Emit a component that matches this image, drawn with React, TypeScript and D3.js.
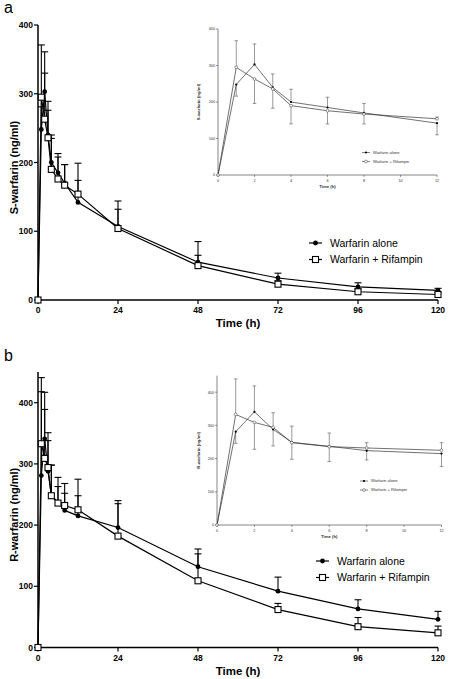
import React from "react";
import * as d3 from "d3";

const times = [0, 1, 2, 3, 4, 6, 8, 12, 24, 48, 72, 96, 120];
const mainXTicks = [0, 24, 48, 72, 96, 120];
const insetXTicks = [0, 2, 4, 6, 8, 10, 12];
const yTicks = [0, 100, 200, 300, 400];
const seriesNames = ["Warfarin alone", "Warfarin + Rifampin"];

// Panel a: S-warfarin
const sAlone = [0, 248, 303, 240, 200, 185, 170, 142, 107, 55, 32, 19, 14];
const sRif = [0, 295, 263, 236, 190, 176, 167, 154, 104, 50, 23, 12, 8];
const sAloneSd = [0, 33, 58, 36, 35, 28, 27, 32, 37, 30, 7, 6, 3];
const sRifSd = [0, 76, 67, 53, 50, 32, 30, 45, 28, 15, 5, 4, 3];
const sAloneInsetErr = [0, 32, 56, 37, 35, 28, 26, 32];
const sRifInsetErr = [0, 73, 67, 53, 50, 36, 27, 5];

// Panel b: R-warfarin
const rAlone = [0, 281, 341, 288, 249, 237, 224, 215, 196, 132, 92, 63, 46];
const rRif = [0, 333, 309, 294, 248, 236, 232, 225, 182, 109, 62, 34, 24];
const rAloneSd = [0, 137, 76, 63, 49, 41, 28, 33, 44, 29, 23, 15, 13];
const rRifSd = [0, 108, 80, 44, 50, 27, 36, 50, 53, 44, 10, 15, 11];
const rAloneInsetErr = [0, 35, 78, 50, 49, 40, 28, 39];
const rRifInsetErr = [0, 107, 81, 44, 50, 45, 16, 23];

const FONT = "'Liberation Sans', Arial, sans-serif";

type PanelProps = {
  letter: string;
  letterY: number;
  yLabel: string;
  alone: number[];
  rif: number[];
  aloneSd: number[];
  rifSd: number[];
  aloneIn: number[];
  rifIn: number[];
  yMax: number;
  main: { x0: number; x1: number; y0: number; y1: number; labelY: number; titleY: number; legX: number; legY: number };
  inset: { x0: number; x1: number; y0: number; y1: number; yMax: number; legX: number; legY: number; yLabelX: number };
};

function Panel(p: PanelProps) {
  const x = d3.scaleLinear().domain([0, 120]).range([p.main.x0, p.main.x1]);
  const y = d3.scaleLinear().domain([0, p.yMax]).range([p.main.y0, p.main.y1]);
  const line = d3
    .line<number>()
    .x((_, i) => x(times[i]))
    .y((d) => y(d));

  const ix = d3.scaleLinear().domain([0, 12]).range([p.inset.x0, p.inset.x1]);
  const iy = d3.scaleLinear().domain([0, p.inset.yMax]).range([p.inset.y0, p.inset.y1]);
  const nIn = 8;
  const iline = d3
    .line<number>()
    .x((_, i) => ix(times[i]))
    .y((d) => iy(d));

  const sq = 6;
  const cr = 2.4;
  const m = p.main;

  return (
    <g>
      <text x={4} y={p.letterY} fontSize={16} fontFamily={FONT}>
        {p.letter}
      </text>
      {/* main axes */}
      <line x1={m.x0} x2={m.x0} y1={m.y0} y2={y(p.yMax)} stroke="#000" strokeWidth={1.5} />
      <line x1={m.x0} x2={m.x1} y1={m.y0} y2={m.y0} stroke="#000" strokeWidth={1.5} />
      {yTicks.map((t) => (
        <g key={"yt" + t}>
          <line x1={m.x0 - 4} x2={m.x0} y1={y(t)} y2={y(t)} stroke="#000" strokeWidth={1.2} />
          <text x={m.x0 - 5} y={y(t) + 3} fontSize={8.5} fontWeight="bold" textAnchor="end" fontFamily={FONT}>
            {t}
          </text>
        </g>
      ))}
      {mainXTicks.map((t) => (
        <g key={"xt" + t}>
          <line x1={x(t)} x2={x(t)} y1={m.y0} y2={m.y0 + 4} stroke="#000" strokeWidth={1.2} />
          <text x={x(t)} y={m.labelY} fontSize={8.5} fontWeight="bold" textAnchor="middle" fontFamily={FONT}>
            {t}
          </text>
        </g>
      ))}
      <text x={x(60)} y={m.titleY} fontSize={11.5} fontWeight="bold" textAnchor="middle" fontFamily={FONT}>
        Time (h)
      </text>
      <text
        transform={`translate(${18},${(m.y0 + y(p.yMax)) / 2 + 5}) rotate(-90)`}
        fontSize={11}
        fontWeight="bold"
        textAnchor="middle"
        fontFamily={FONT}
      >
        {p.yLabel}
      </text>
      {/* error bars main (upper only) */}
      {[
        { v: p.alone, sd: p.aloneSd },
        { v: p.rif, sd: p.rifSd },
      ].map((s, si) =>
        s.v.map((v, i) =>
          s.sd[i] > 0 ? (
            <g key={`eb${si}-${i}`} stroke="#000" strokeWidth={1.1}>
              <line x1={x(times[i])} x2={x(times[i])} y1={y(v)} y2={y(v + s.sd[i])} />
              <line x1={x(times[i]) - 3.5} x2={x(times[i]) + 3.5} y1={y(v + s.sd[i])} y2={y(v + s.sd[i])} />
            </g>
          ) : null
        )
      )}
      <path d={line(p.alone) || ""} fill="none" stroke="#000" strokeWidth={1.2} />
      <path d={line(p.rif) || ""} fill="none" stroke="#000" strokeWidth={1.2} />
      {p.alone.map((v, i) => (
        <circle key={"ca" + i} cx={x(times[i])} cy={y(v)} r={cr} fill="#000" />
      ))}
      {p.rif.map((v, i) => (
        <rect
          key={"sr" + i}
          x={x(times[i]) - sq / 2}
          y={y(v) - sq / 2}
          width={sq}
          height={sq}
          fill="#fff"
          stroke="#000"
          strokeWidth={1.1}
        />
      ))}
      {/* main legend */}
      <g fontFamily={FONT} fontSize={10.5}>
        <line x1={m.legX} x2={m.legX + 13} y1={m.legY} y2={m.legY} stroke="#000" strokeWidth={1.2} />
        <circle cx={m.legX + 6.5} cy={m.legY} r={cr} fill="#000" />
        <text x={m.legX + 21} y={m.legY + 3.8}>
          {seriesNames[0]}
        </text>
        <line x1={m.legX} x2={m.legX + 13} y1={m.legY + 16.5} y2={m.legY + 16.5} stroke="#000" strokeWidth={1.2} />
        <rect
          x={m.legX + 6.5 - sq / 2}
          y={m.legY + 16.5 - sq / 2}
          width={sq}
          height={sq}
          fill="#fff"
          stroke="#000"
          strokeWidth={1.1}
        />
        <text x={m.legX + 21} y={m.legY + 16.5 + 3.8}>
          {seriesNames[1]}
        </text>
      </g>

      {/* inset */}
      <g fontFamily={FONT}>
        <line x1={p.inset.x0} x2={p.inset.x0} y1={p.inset.y0} y2={iy(p.inset.yMax)} stroke="#333" strokeWidth={0.6} />
        <line x1={p.inset.x0} x2={p.inset.x1} y1={p.inset.y0} y2={p.inset.y0} stroke="#333" strokeWidth={0.6} />
        {yTicks.map((t) => (
          <g key={"iyt" + t}>
            <line x1={p.inset.x0 - 2} x2={p.inset.x0} y1={iy(t)} y2={iy(t)} stroke="#333" strokeWidth={0.5} />
            <text x={p.inset.x0 - 3} y={iy(t) + 1.3} fontSize={3.8} textAnchor="end" fill="#333">
              {t}
            </text>
          </g>
        ))}
        {insetXTicks.map((t) => (
          <g key={"ixt" + t}>
            <line x1={ix(t)} x2={ix(t)} y1={p.inset.y0} y2={p.inset.y0 + 2} stroke="#333" strokeWidth={0.5} />
            <text x={ix(t)} y={p.inset.y0 + 6.5} fontSize={3.8} textAnchor="middle" fill="#333">
              {t}
            </text>
          </g>
        ))}
        <text x={ix(6)} y={p.inset.y0 + 13} fontSize={4.3} fontWeight="bold" textAnchor="middle" fill="#333">
          Time (h)
        </text>
        <text
          transform={`translate(${p.inset.yLabelX},${(p.inset.y0 + iy(p.inset.yMax)) / 2}) rotate(-90)`}
          fontSize={4.3}
          fontWeight="bold"
          textAnchor="middle"
          fill="#333"
        >
          {p.yLabel}
        </text>
        {d3.range(1, nIn).map((i) => {
          const a = p.alone[i];
          const r = p.rif[i];
          const aUp = a >= r;
          const aEnd = aUp ? a + p.aloneIn[i] : a - p.aloneIn[i];
          const rEnd = aUp ? r - p.rifIn[i] : r + p.rifIn[i];
          const xx = ix(times[i]);
          return (
            <g key={"ieb" + i} stroke="#555" strokeWidth={0.6}>
              <line x1={xx} x2={xx} y1={iy(a)} y2={iy(aEnd)} />
              <line x1={xx - 1.8} x2={xx + 1.8} y1={iy(aEnd)} y2={iy(aEnd)} />
              <line x1={xx} x2={xx} y1={iy(r)} y2={iy(rEnd)} />
              <line x1={xx - 1.8} x2={xx + 1.8} y1={iy(rEnd)} y2={iy(rEnd)} />
            </g>
          );
        })}
        <path d={iline(p.alone.slice(0, nIn)) || ""} fill="none" stroke="#333" strokeWidth={0.7} />
        <path d={iline(p.rif.slice(0, nIn)) || ""} fill="none" stroke="#333" strokeWidth={0.7} />
        {p.alone.slice(0, nIn).map((v, i) => (
          <circle key={"ica" + i} cx={ix(times[i])} cy={iy(v)} r={1.1} fill="#000" />
        ))}
        {p.rif.slice(0, nIn).map((v, i) => (
          <circle key={"icr" + i} cx={ix(times[i])} cy={iy(v)} r={1.4} fill="#fff" stroke="#333" strokeWidth={0.5} />
        ))}
        <line x1={p.inset.legX} x2={p.inset.legX + 8} y1={p.inset.legY} y2={p.inset.legY} stroke="#333" strokeWidth={0.6} />
        <circle cx={p.inset.legX + 4} cy={p.inset.legY} r={1.1} fill="#000" />
        <text x={p.inset.legX + 11} y={p.inset.legY + 1.4} fontSize={4.1} fill="#333">
          {seriesNames[0]}
        </text>
        <line
          x1={p.inset.legX}
          x2={p.inset.legX + 8}
          y1={p.inset.legY + 9}
          y2={p.inset.legY + 9}
          stroke="#333"
          strokeWidth={0.6}
        />
        <circle cx={p.inset.legX + 4} cy={p.inset.legY + 9} r={1.4} fill="#fff" stroke="#333" strokeWidth={0.5} />
        <text x={p.inset.legX + 11} y={p.inset.legY + 9 + 1.4} fontSize={4.1} fill="#333">
          {seriesNames[1]}
        </text>
      </g>
    </g>
  );
}

export default function App() {
  return (
    <svg width={453} height={679} style={{ position: "absolute", left: 0, top: 0, background: "#fff" }}>
      <rect width={453} height={679} fill="#fff" />
      <Panel
        letter="a"
        letterY={13}
        yLabel="S-warfarin (ng/ml)"
        alone={sAlone}
        rif={sRif}
        aloneSd={sAloneSd}
        rifSd={sRifSd}
        aloneIn={sAloneInsetErr}
        rifIn={sRifInsetErr}
        yMax={400}
        main={{ x0: 38, x1: 438, y0: 300, y1: 25, labelY: 313, titleY: 327, legX: 309, legY: 243 }}
        inset={{ x0: 218, x1: 437, y0: 175, y1: 29, yMax: 400, legX: 362, legY: 152.5, yLabelX: 200 }}
      />
      <Panel
        letter="b"
        letterY={361}
        yLabel="R-warfarin (ng/ml)"
        alone={rAlone}
        rif={rRif}
        aloneSd={rAloneSd}
        rifSd={rRifSd}
        aloneIn={rAloneInsetErr}
        rifIn={rRifInsetErr}
        yMax={450}
        main={{ x0: 38, x1: 438, y0: 647.5, y1: 372.1, labelY: 661, titleY: 675, legX: 316, legY: 561 }}
        inset={{ x0: 217, x1: 441.5, y0: 525, y1: 375.6, yMax: 450, legX: 360, legY: 481, yLabelX: 200 }}
      />
    </svg>
  );
}
